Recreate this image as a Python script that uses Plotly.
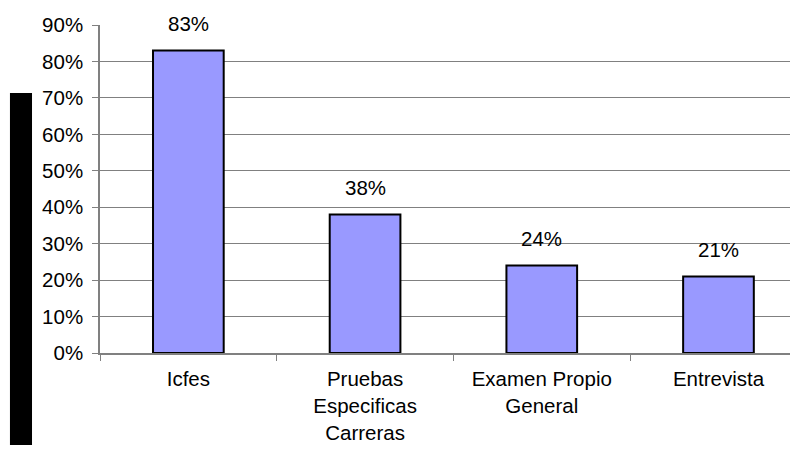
import plotly.graph_objects as go

categories = ["Icfes", "Pruebas<br>Especificas<br>Carreras", "Examen Propio<br>General", "Entrevista"]
values = [0.83, 0.38, 0.24, 0.21]
value_labels = ["83%", "38%", "24%", "21%"]
y_ticks = [0, 0.1, 0.2, 0.3, 0.4, 0.5, 0.6, 0.7, 0.8, 0.9]
y_tick_labels = ["0%", "10%", "20%", "30%", "40%", "50%", "60%", "70%", "80%", "90%"]

FONT = "Liberation Sans, Arial, sans-serif"
FS = 20.5

fig = go.Figure()
fig.add_trace(go.Bar(
    x=categories, y=values, width=0.4,
    marker=dict(color="#9999FF", line=dict(color="#000000", width=2)),
    hoverinfo="skip",
))

for c, v, t in zip(categories, values, value_labels):
    fig.add_annotation(x=c, y=v, text=t, showarrow=False, yanchor="middle",
                       yshift=27, font=dict(family=FONT, size=FS, color="#000000"))

# dark vertical bar at the left (axis-title box)
fig.add_shape(type="rect", xref="paper", yref="paper",
              x0=-0.129, x1=-0.0974, y0=-0.2805, y1=0.7927,
              fillcolor="#000000", line=dict(width=0), layer="above")

fig.update_layout(
    width=790, height=443,
    margin=dict(l=92, r=0, t=17, b=98),
    paper_bgcolor="#FFFFFF", plot_bgcolor="#FFFFFF",
    showlegend=False,
    font=dict(family=FONT, size=FS, color="#000000"),
    xaxis=dict(
        type="category", range=[-0.5, 3.45], tickson="boundaries",
        ticks="outside", ticklen=6, tickcolor="#808080",
        showline=True, linecolor="#808080", linewidth=1.5,
        showgrid=False, tickfont=dict(family=FONT, size=FS, color="#000000"),
        automargin=False, ticklabelstandoff=7,
    ),
    yaxis=dict(
        range=[0, 0.9], tickvals=y_ticks, ticktext=y_tick_labels,
        ticks="outside", ticklen=6, tickcolor="#808080",
        showline=True, linecolor="#808080", linewidth=1.5,
        showgrid=True, gridcolor="#808080", gridwidth=1,
        zeroline=False, tickfont=dict(family=FONT, size=FS, color="#000000"),
        automargin=False, ticklabelstandoff=5,
    ),
    bargap=0.6,
)

fig.write_html("out.html")
